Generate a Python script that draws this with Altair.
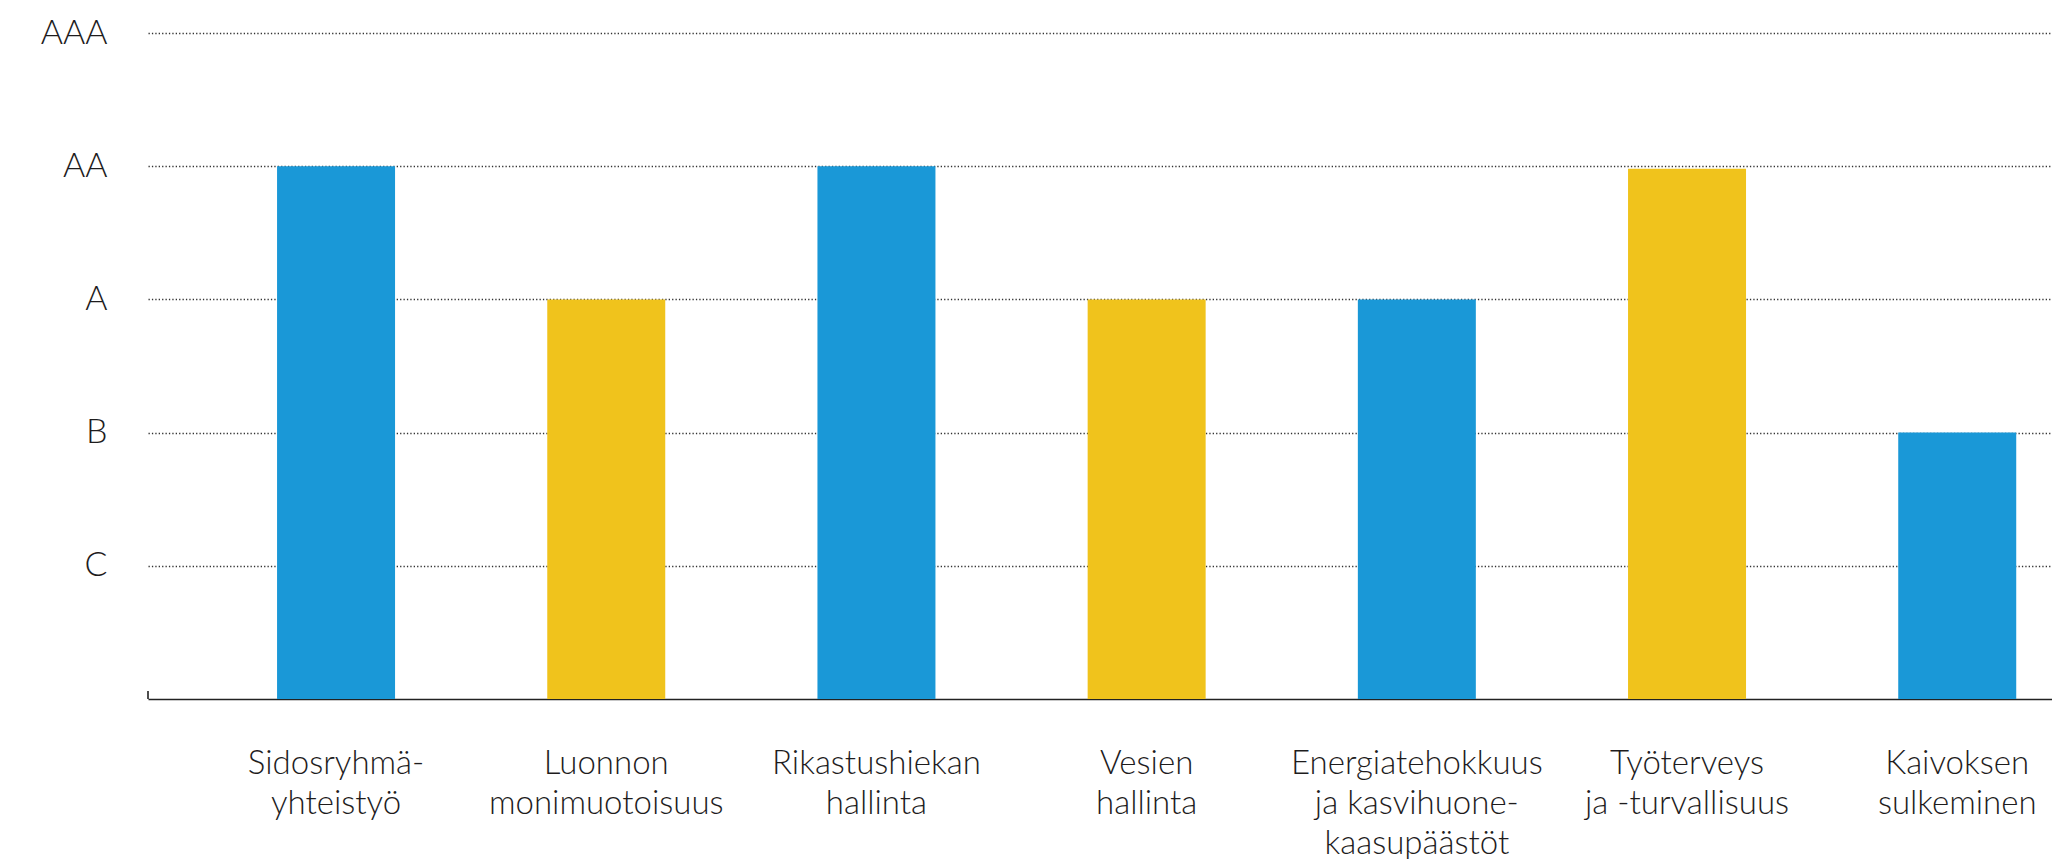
import altair as alt
import pandas as pd

categories = [
    "Sidosryhmä-\nyhteistyö",
    "Luonnon\nmonimuotoisuus",
    "Rikastushiekan\nhallinta",
    "Vesien\nhallinta",
    "Energiatehokkuus\nja kasvihuone-\nkaasupäästöt",
    "Työterveys\nja -turvallisuus",
    "Kaivoksen\nsulkeminen",
]
# Rating levels: 1=C, 2=B, 3=A, 4=AA, 5=AAA
values = [4, 3, 4, 3, 3, 3.98, 2]
bar_colors = ["#1A98D7", "#F0C31C", "#1A98D7", "#F0C31C", "#1A98D7", "#F0C31C", "#1A98D7"]
level_labels = ["", "C", "B", "A", "AA", "AAA"]
level_values = [1, 2, 3, 4, 5]

df = pd.DataFrame({"category": categories, "value": values, "color": bar_colors})

FONT = "Lato"
TXT = "#1E1C1D"

label_expr = "[" + ",".join(f"'{s}'" for s in level_labels) + "][datum.value]"

bars = alt.Chart(df).mark_bar().encode(
    x=alt.X(
        "category:N",
        sort=categories,
        title=None,
        scale=alt.Scale(paddingInner=0.5633, paddingOuter=0.305, align=0.783),
        axis=alt.Axis(
            labelAngle=0,
            labelExpr="split(datum.label, '\\n')",
            labelFont=FONT,
            labelFontSize=33,
            labelFontWeight=300,
            labelColor=TXT,
            labelLineHeight=40,
            labelPadding=48,
            labelLimit=0,
            ticks=False,
            grid=False,
            domainColor="#222222",
            domainWidth=1.6,
        ),
    ),
    y=alt.Y(
        "value:Q",
        title=None,
        scale=alt.Scale(domain=[0, 5], nice=False, zero=True),
        axis=alt.Axis(
            values=level_values,
            labelExpr=label_expr,
            labelFont=FONT,
            labelFontSize=34,
            labelFontWeight=300,
            labelColor=TXT,
            labelPadding=41,
            ticks=False,
            domain=False,
            grid=True,
            gridColor="#333333",
            gridWidth=1.3,
            gridDash=[1.3, 2.1],
        ),
    ),
    color=alt.Color("color:N", scale=None, legend=None),
)

stub = alt.Chart(df).mark_rule(color="#222222", strokeWidth=1.6).encode(
    x=alt.value(0), y=alt.value(666), y2=alt.value(658)
).transform_filter("datum.category == '" + categories[0].replace("\n", "\\n") + "'")

chart = alt.layer(bars, stub).properties(
    width=1904,
    height=666,
    autosize=alt.AutoSizeParams(type="none"),
    padding={"left": 140, "top": 25, "right": 0, "bottom": 160},
).configure_view(stroke=None)

chart.save("out.html", embed_options={"renderer": "svg", "actions": False})
